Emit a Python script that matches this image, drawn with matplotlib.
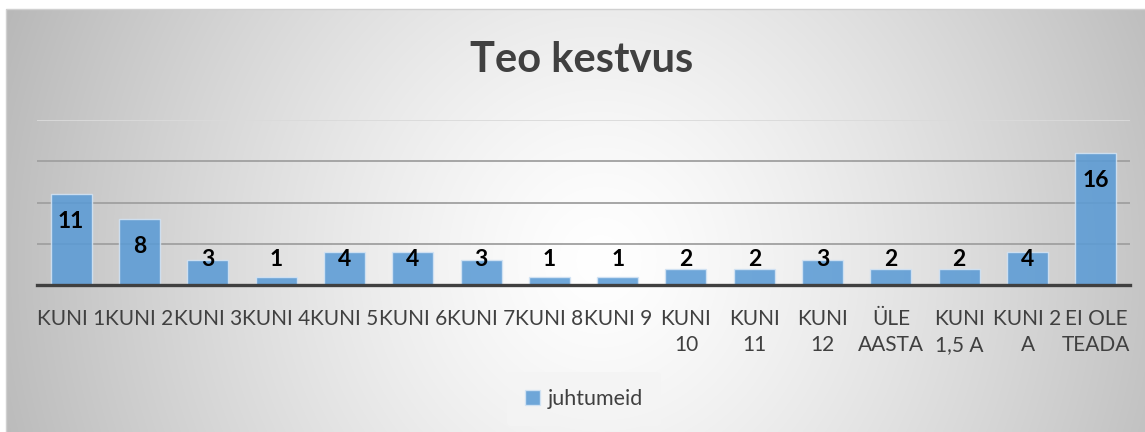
import numpy as np
import matplotlib
matplotlib.use("Agg")
import matplotlib.pyplot as plt
from matplotlib.patches import Rectangle

categories = ["KUNI 1", "KUNI 2", "KUNI 3", "KUNI 4", "KUNI 5", "KUNI 6", "KUNI 7",
              "KUNI 8", "KUNI 9", "KUNI\n10", "KUNI\n11", "KUNI\n12", "ÜLE\nAASTA",
              "KUNI\n1,5 A", "KUNI 2\nA", "EI OLE\nTEADA"]
values = [11, 8, 3, 1, 4, 4, 3, 1, 1, 2, 2, 3, 2, 2, 4, 16]
series_name = "juhtumeid"
title = "Teo kestvus"
yticks = [0, 5, 10, 15, 20]

W, H = 1145, 432
plt.rcParams['font.family'] = ['Lato', 'DejaVu Sans']
fig = plt.figure(figsize=(W / 100, H / 100), dpi=100)
fig.patch.set_facecolor("white")

# background gradient chart area
bx0, by0 = 6, 9
bg = fig.add_axes([bx0 / W, 0, 1 - bx0 / W, 1 - by0 / H], zorder=0)
xs = np.arange(bx0, W)
ys = np.arange(by0, H)
X, Y = np.meshgrid(xs, ys)
d = np.sqrt(((X - 600) / 590.0) ** 2 + ((Y - 260) / 620.0) ** 2)
g = 255 - 64 * np.clip(d, 0, 1.1) ** 1.3
img = np.dstack([g, g, g]).astype(np.uint8)
bg.imshow(img, aspect='auto', extent=[0, 1, 0, 1], origin='upper')
bg.set_axis_off()
fig.add_artist(Rectangle((bx0 / W, -0.01), 1.0, 1 - by0 / H + 0.01, transform=fig.transFigure,
                         fill=False, edgecolor="#d0d0d0", linewidth=1.0, zorder=1))

# main axes
left, right = 37, 1130
top, bottom = 120, 285
ax = fig.add_axes([left / W, 1 - bottom / H, (right - left) / W, (bottom - top) / H], zorder=2)
ax.patch.set_alpha(0)
x = np.arange(len(categories))
ax.bar(x, values, width=0.6, color="#5b9bd5", alpha=0.88, edgecolor="#d4e4f4",
       linewidth=1.0, zorder=3)
ax.set_xlim(-0.5, len(categories) - 0.5)
ax.set_ylim(0, 20)
ax.set_yticks(yticks)
ax.set_yticklabels([])
ax.tick_params(axis='y', length=0)
ax.grid(axis='y', color="#a0a0a0", linewidth=1.3, zorder=1)
ax.set_axisbelow(True)
gl = ax.yaxis.get_gridlines()
gl[-1].set_color("#dadada")
for s in ["top", "right", "left"]:
    ax.spines[s].set_visible(False)
ax.spines["bottom"].set_color("#404040")
ax.spines["bottom"].set_linewidth(2.4)
ax.spines["bottom"].set_zorder(5)
ax.set_xticks(x)
ax.set_xticklabels(categories, fontsize=15, color="#404040", linespacing=1.4, va='top')
ax.tick_params(axis='x', length=0, pad=17)

for xi, v in zip(x, values):
    yl = max(v - 3.3, 3.15)
    ax.text(xi, yl, str(v), ha='center', va='center', fontsize=16.5, fontweight='bold',
            color='black', zorder=6)

fig.text(582 / W, 1 - 72 / H, title, ha='center', va='baseline', fontsize=30,
         fontweight='bold', color="#404040")

leg = ax.legend([series_name], loc='center', bbox_to_anchor=(584 / W, 1 - 399 / H),
                bbox_transform=fig.transFigure, frameon=True, fontsize=15.5,
                handlelength=0.7, handleheight=0.7, handletextpad=0.4,
                labelcolor="#404040", borderpad=0.8)
leg.get_frame().set_facecolor("#f4f4f4")
leg.get_frame().set_edgecolor("none")
leg.get_frame().set_alpha(0.8)

fig.savefig("out.png", dpi=100, facecolor="white")
